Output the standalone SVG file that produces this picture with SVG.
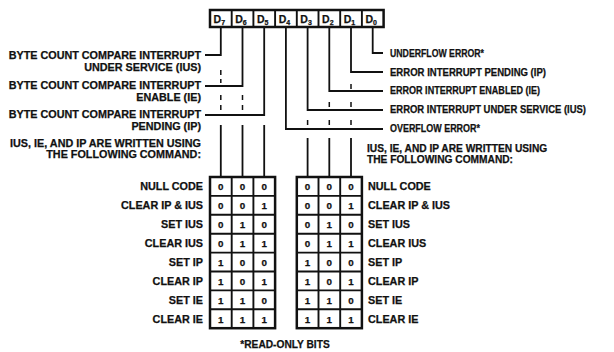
<svg xmlns="http://www.w3.org/2000/svg" width="614" height="352" viewBox="0 0 614 352">
<style>
.t{font-family:"Liberation Sans",Arial,Helvetica,sans-serif;font-weight:bold;font-size:10.8px;fill:#111;stroke:#111;stroke-width:0.25}
.e{text-anchor:end}
.m{text-anchor:middle}
.n{font-size:10.2px}
.rl{font-size:10.4px}
.d{font-size:9.8px}
.reg{font-size:10.5px}
.sub{font-size:7px}
.ln{stroke:#111;stroke-width:1.8;fill:none}
.tk{stroke:#111;stroke-width:1.5;fill:none}
.box{stroke:#111;stroke-width:2.5;fill:none}
.grid{stroke:#111;stroke-width:1.9;fill:none}
</style>
<rect width="614" height="352" fill="#fff"/>

<g id="register">
<rect class="box" x="210" y="10" width="173.6" height="17"/>
<path class="grid" d="M231.7 10v17M253.4 10v17M275.1 10v17M296.8 10v17M318.5 10v17M340.2 10v17M361.9 10v17"/>
<text class="t reg m" x="219.3" y="22.5">D<tspan class="sub" dy="2">7</tspan></text>
<text class="t reg m" x="241" y="22.5">D<tspan class="sub" dy="2">6</tspan></text>
<text class="t reg m" x="262.7" y="22.5">D<tspan class="sub" dy="2">5</tspan></text>
<text class="t reg m" x="284.4" y="22.5">D<tspan class="sub" dy="2">4</tspan></text>
<text class="t reg m" x="306.1" y="22.5">D<tspan class="sub" dy="2">3</tspan></text>
<text class="t reg m" x="327.8" y="22.5">D<tspan class="sub" dy="2">2</tspan></text>
<text class="t reg m" x="349.5" y="22.5">D<tspan class="sub" dy="2">1</tspan></text>
<text class="t reg m" x="371.2" y="22.5">D<tspan class="sub" dy="2">0</tspan></text>
</g>

<g id="connectors">
<path class="ln" d="M220.8 27V55H205"/>
<path class="ln" d="M242.5 27V86H205"/>
<path class="ln" d="M264.2 27V115H205"/>
<path class="tk" d="M220.8 70v5M220.8 79v4M220.8 95v5M220.8 105v5M242.5 95v5M242.5 105v5"/>
<path class="ln" d="M220.8 125V178M242.5 125V178M264.2 125V178"/>
<path class="ln" d="M372.7 27V53H383"/>
<path class="ln" d="M351 27V72H383"/>
<path class="ln" d="M329.3 27V91H383"/>
<path class="ln" d="M307.6 27V110H383"/>
<path class="ln" d="M285.9 27V129H383"/>
<path class="tk" d="M351 84v5M351 102v5M329.3 102v5M351 120v5M329.3 120v5M307.6 120v5"/>
<path class="ln" d="M307.6 138V178M329.3 138V178M351 138V178"/>
</g>

<g id="labels-left">
<text class="t e" x="201" y="59">BYTE COUNT COMPARE INTERRUPT</text>
<text class="t e" x="201" y="71">UNDER SERVICE (IUS)</text>
<text class="t e" x="201" y="89">BYTE COUNT COMPARE INTERRUPT</text>
<text class="t e" x="201" y="101">ENABLE (IE)</text>
<text class="t e" x="201" y="118">BYTE COUNT COMPARE INTERRUPT</text>
<text class="t e" x="201" y="130">PENDING (IP)</text>
<text class="t e" x="201" y="147">IUS, IE, AND IP ARE WRITTEN USING</text>
<text class="t e" x="201" y="158">THE FOLLOWING COMMAND:</text>
</g>

<g id="labels-right">
<text class="t rl" x="390" y="56.5" textLength="94" lengthAdjust="spacingAndGlyphs">UNDERFLOW ERROR*</text>
<text class="t rl" x="390" y="75.5" textLength="156" lengthAdjust="spacingAndGlyphs">ERROR INTERRUPT PENDING (IP)</text>
<text class="t rl" x="390" y="94" textLength="150" lengthAdjust="spacingAndGlyphs">ERROR INTERRUPT ENABLED (IE)</text>
<text class="t rl" x="390" y="113" textLength="196" lengthAdjust="spacingAndGlyphs">ERROR INTERRUPT UNDER SERVICE (IUS)</text>
<text class="t rl" x="390" y="132" textLength="90" lengthAdjust="spacingAndGlyphs">OVERFLOW ERROR*</text>
<text class="t n" x="367" y="152">IUS, IE, AND IP ARE WRITTEN USING</text>
<text class="t n" x="367" y="163">THE FOLLOWING COMMAND:</text>
</g>

<g id="table-left">
<rect class="box" x="210" y="177" width="65.1" height="151.2"/>
<path class="grid" d="M231.7 177v151.2M253.4 177v151.2M210 195.9h65.1M210 214.8h65.1M210 233.7h65.1M210 252.6h65.1M210 271.5h65.1M210 290.4h65.1M210 309.3h65.1"/>
<g class="t d m">
<text x="220.8" y="190">0</text><text x="242.5" y="190">0</text><text x="264.2" y="190">0</text>
<text x="220.8" y="209">0</text><text x="242.5" y="209">0</text><text x="264.2" y="209">1</text>
<text x="220.8" y="228">0</text><text x="242.5" y="228">1</text><text x="264.2" y="228">0</text>
<text x="220.8" y="247">0</text><text x="242.5" y="247">1</text><text x="264.2" y="247">1</text>
<text x="220.8" y="266">1</text><text x="242.5" y="266">0</text><text x="264.2" y="266">0</text>
<text x="220.8" y="285">1</text><text x="242.5" y="285">0</text><text x="264.2" y="285">1</text>
<text x="220.8" y="303.8">1</text><text x="242.5" y="303.8">1</text><text x="264.2" y="303.8">0</text>
<text x="220.8" y="322.7">1</text><text x="242.5" y="322.7">1</text><text x="264.2" y="322.7">1</text>
</g>
<g class="t e">
<text x="203" y="190">NULL CODE</text>
<text x="203" y="209">CLEAR IP &amp; IUS</text>
<text x="203" y="228">SET IUS</text>
<text x="203" y="247">CLEAR IUS</text>
<text x="203" y="266">SET IP</text>
<text x="203" y="285">CLEAR IP</text>
<text x="203" y="303.8">SET IE</text>
<text x="203" y="322.7">CLEAR IE</text>
</g>
</g>

<g id="table-right">
<rect class="box" x="296.8" y="177" width="65.1" height="151.2"/>
<path class="grid" d="M318.5 177v151.2M340.2 177v151.2M296.8 195.9h65.1M296.8 214.8h65.1M296.8 233.7h65.1M296.8 252.6h65.1M296.8 271.5h65.1M296.8 290.4h65.1M296.8 309.3h65.1"/>
<g class="t d m">
<text x="307.6" y="190">0</text><text x="329.3" y="190">0</text><text x="351" y="190">0</text>
<text x="307.6" y="209">0</text><text x="329.3" y="209">0</text><text x="351" y="209">1</text>
<text x="307.6" y="228">0</text><text x="329.3" y="228">1</text><text x="351" y="228">0</text>
<text x="307.6" y="247">0</text><text x="329.3" y="247">1</text><text x="351" y="247">1</text>
<text x="307.6" y="266">1</text><text x="329.3" y="266">0</text><text x="351" y="266">0</text>
<text x="307.6" y="285">1</text><text x="329.3" y="285">0</text><text x="351" y="285">1</text>
<text x="307.6" y="303.8">1</text><text x="329.3" y="303.8">1</text><text x="351" y="303.8">0</text>
<text x="307.6" y="322.7">1</text><text x="329.3" y="322.7">1</text><text x="351" y="322.7">1</text>
</g>
<g class="t">
<text x="368" y="190">NULL CODE</text>
<text x="368" y="209">CLEAR IP &amp; IUS</text>
<text x="368" y="228">SET IUS</text>
<text x="368" y="247">CLEAR IUS</text>
<text x="368" y="266">SET IP</text>
<text x="368" y="285">CLEAR IP</text>
<text x="368" y="303.8">SET IE</text>
<text x="368" y="322.7">CLEAR IE</text>
</g>
</g>

<g id="footnote">
<text class="t n m" x="285" y="348">*READ-ONLY BITS</text>
</g>
</svg>
